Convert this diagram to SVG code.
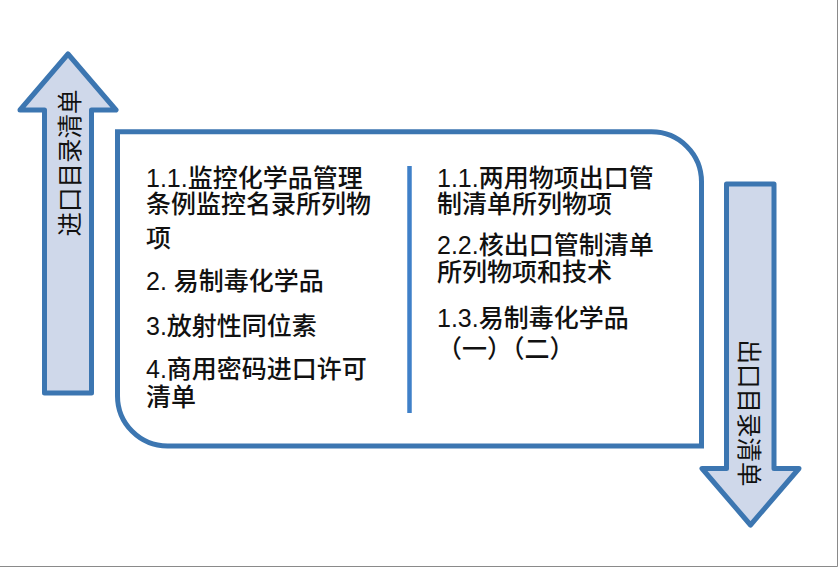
<svg xmlns="http://www.w3.org/2000/svg" width="840" height="568" viewBox="0 0 840 568">
<style>
.arrow{fill:#cfd8ea;stroke:#3c76b1;stroke-width:5;stroke-linejoin:round}
.box{fill:#ffffff;stroke:#3c76b1;stroke-width:5}
.div{stroke:#3f80c8;stroke-width:4.5}
.t{font-family:"Liberation Sans","Noto Sans CJK SC",sans-serif;font-size:25px;font-weight:500;fill:#111111}
.v{font-family:"Noto Sans CJK SC",sans-serif;font-size:24.5px;fill:#111111;text-anchor:middle;dominant-baseline:central}
</style>
<rect x="0" y="0" width="840" height="568" fill="#ffffff"/>
<path d="M837.5,0 V566.5 H0" fill="none" stroke="#8a8a8a" stroke-width="1"/>
<g id="import-arrow">
<polygon class="arrow" points="68,54 116,110 91.5,110 91.5,393 44.5,393 44.5,110 20,110"/>
<text class="v" transform="translate(68,163) rotate(-90)">进口目录清单</text>
</g>
<g id="export-arrow">
<polygon class="arrow" points="726.5,184 774,184 774,468.5 799,468.5 750.5,525 702,468.5 726.5,468.5"/>
<text class="v" transform="translate(750.5,413) rotate(90)">出口目录清单</text>
</g>
<g id="content-box">
<path class="box" d="M117.5,131.8 H651.5 A50,50 0 0 1 701.5,181.8 V446 H167.5 A50,50 0 0 1 117.5,396 Z"/>
<line class="div" x1="409.5" y1="166" x2="409.5" y2="413"/>
</g>
<g id="import-list">
<text class="t" x="146" y="187">1.1.监控化学品管理</text>
<text class="t" x="146" y="213">条例监控名录所列物</text>
<text class="t" x="146" y="247">项</text>
<text class="t" x="146" y="290">2. 易制毒化学品</text>
<text class="t" x="146" y="335">3.放射性同位素</text>
<text class="t" x="146" y="378">4.商用密码进口许可</text>
<text class="t" x="146" y="406">清单</text>
</g>
<g id="export-list">
<text class="t" x="437" y="187">1.1.两用物项出口管</text>
<text class="t" x="437" y="213">制清单所列物项</text>
<text class="t" x="437" y="254">2.2.核出口管制清单</text>
<text class="t" x="437" y="280.5">所列物项和技术</text>
<text class="t" x="437" y="327">1.3.易制毒化学品</text>
<text class="t" x="437" y="358">（一）（二）</text>
</g>
<g id="connectors"></g>
</svg>
